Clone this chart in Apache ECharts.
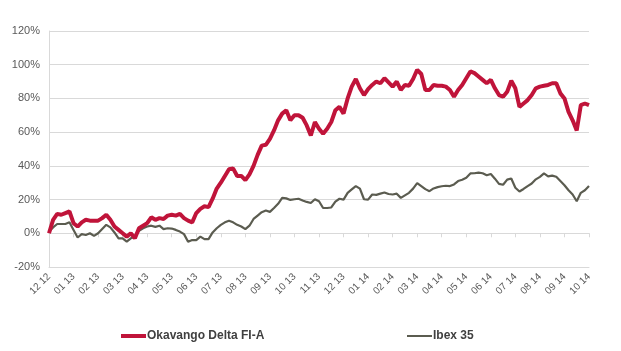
<!DOCTYPE html>
<html>
<head>
<meta charset="utf-8">
<script src="https://cdn.jsdelivr.net/npm/echarts@6/dist/echarts.min.js"></script>
<style>
  html, body { margin: 0; padding: 0; background: #fff; }
  #chart { width: 621px; height: 351px; }
</style>
</head>
<body>
<div id="chart"></div>
<script>
// month tick labels (mm yy)
const monthLabels = ['12 12', '01 13', '02 13', '03 13', '04 13', '05 13', '06 13', '07 13', '08 13', '09 13', '10 13', '11 13',
  '12 13', '01 14', '02 14', '03 14', '04 14', '05 14', '06 14', '07 14', '08 14', '09 14', '10 14'];
const stepsPerMonth = 6;

// cumulative return, % (6 readings per month)
const okavango = [
  0, 8, 11.5, 11, 12, 13, 6, 4, 6.5, 8, 7.5, 7.5,
  7.5, 9, 11, 8, 4, 2, 0, -2, 0, -3, 3, 4.5,
  6, 9.5, 8, 9, 8.5, 10.5, 11, 10.5, 11.5, 9, 7.5, 6.5,
  12, 14.5, 16, 15.5, 20.5, 26.5, 30, 34, 38, 38.5, 34, 34,
  31.5, 35, 40, 46.5, 52, 52.5, 56, 61, 67, 71, 73, 67,
  70, 70, 68.5, 64, 58, 66, 62, 59, 62, 66, 73, 75,
  71, 80, 87, 91.5, 86, 82, 85.5, 88, 90, 89, 92, 89.5,
  87, 90, 85, 88, 87.5, 91.5, 97, 94.5, 85, 85, 88, 87.5,
  87.5, 87, 85, 81, 85, 88, 92, 96, 95, 93, 91, 89,
  91, 86, 82, 81, 84, 90.5, 86, 75, 77, 79, 82, 86,
  87, 87.5, 88, 89, 89, 83, 80, 72, 67, 61, 76, 77, 76
];
const ibex = [
  1, 3.5, 5.5, 5.5, 5.5, 6.5, 2, -2.5, -0.5, -1, 0, -1.5,
  0, 2.5, 5, 3.5, 0.5, -3, -3, -5, -3, -2, 1.5, 3,
  4, 4.5, 3.8, 4.5, 2.5, 3, 2.8, 2, 1, -0.5, -5, -4,
  -4, -2, -3.5, -3.5, 0.5, 3, 5, 6.5, 7.5, 6.5, 5, 4,
  2.5, 4.5, 8.5, 10.5, 12.5, 13.5, 12.7, 15, 17.5, 21, 20.7, 19.8,
  20.2, 20.5, 19.5, 18.6, 18, 20.2, 19, 15, 15, 15.3, 18.8, 20.5,
  20, 24, 26, 28, 26.5, 20.2, 20, 23, 22.8, 23.5, 24.2, 23.3,
  23, 23.5, 21, 22.5, 24, 26.5, 29.8, 28, 26.2, 25, 26.6, 27.4,
  27.9, 28.2, 28, 29, 31, 31.8, 33, 35.5, 35.6, 36, 35.6, 34.4,
  35.2, 32.4, 29.3, 28.8, 31.8, 32.5, 27, 24.8, 26.3, 28, 29.5, 32,
  33.5, 35.5, 33.8, 34.2, 33.5, 31, 28.5, 25.5, 23, 19, 24, 25.5, 28
];

const seriesNames = ['Okavango Delta FI-A', 'Ibex 35'];
const RED = '#c0143a';
const GREY = '#5b5c50';
const GRID = '#d9d9d9';
const FONT = '"Liberation Sans", Arial, sans-serif';

const toPoints = arr => arr.map((v, i) => [i / stepsPerMonth, v]);

const chart = echarts.init(document.getElementById('chart'));

const monthAxis = {
  type: 'value',
  min: 0,
  max: monthLabels.length - 1,
  interval: 1,
  splitLine: { show: false }
};

chart.setOption({
  animation: false,
  textStyle: { fontFamily: FONT },
  grid: { left: 49, right: 32, top: 31, bottom: 84 },
  legend: [
    {
      data: [seriesNames[0]],
      left: 116, top: 325,
      icon: 'rect', itemWidth: 25, itemHeight: 4,
      textStyle: { fontFamily: FONT, fontSize: 12, fontWeight: 'bold', color: '#404040', padding: [0, 0, 0, -4] }
    },
    {
      data: [seriesNames[1]],
      left: 402, top: 325,
      icon: 'rect', itemWidth: 25, itemHeight: 2,
      textStyle: { fontFamily: FONT, fontSize: 12, fontWeight: 'bold', color: '#404040', padding: [0, 0, 0, -4] }
    }
  ],
  xAxis: [
    Object.assign({}, monthAxis, {
      position: 'bottom',
      axisLine: { onZero: false, lineStyle: { color: GRID } },
      axisTick: { show: false },
      axisLabel: {
        rotate: 45,
        margin: 8,
        fontSize: 10,
        color: '#595959',
        fontFamily: FONT,
        formatter: v => monthLabels[v]
      }
    }),
    // ticks hanging from the zero line
    Object.assign({}, monthAxis, {
      position: 'bottom',
      axisLine: { onZero: true, lineStyle: { color: GRID } },
      axisTick: { show: true, length: 4, lineStyle: { color: GRID } },
      axisLabel: { show: false }
    })
  ],
  yAxis: {
    type: 'value',
    min: -20,
    max: 120,
    interval: 20,
    axisLine: { show: true, lineStyle: { color: GRID } },
    axisTick: { show: false },
    splitLine: { lineStyle: { color: GRID } },
    axisLabel: {
      formatter: '{value}%',
      fontSize: 11,
      color: '#595959',
      fontFamily: FONT,
      margin: 9
    }
  },
  series: [
    {
      name: seriesNames[1],
      type: 'line',
      data: toPoints(ibex),
      showSymbol: false,
      color: GREY,
      lineStyle: { width: 2.2, color: GREY },
      z: 2
    },
    {
      name: seriesNames[0],
      type: 'line',
      data: toPoints(okavango),
      showSymbol: false,
      color: RED,
      lineStyle: { width: 4, color: RED },
      z: 3
    }
  ]
});
</script>
</body>
</html>
